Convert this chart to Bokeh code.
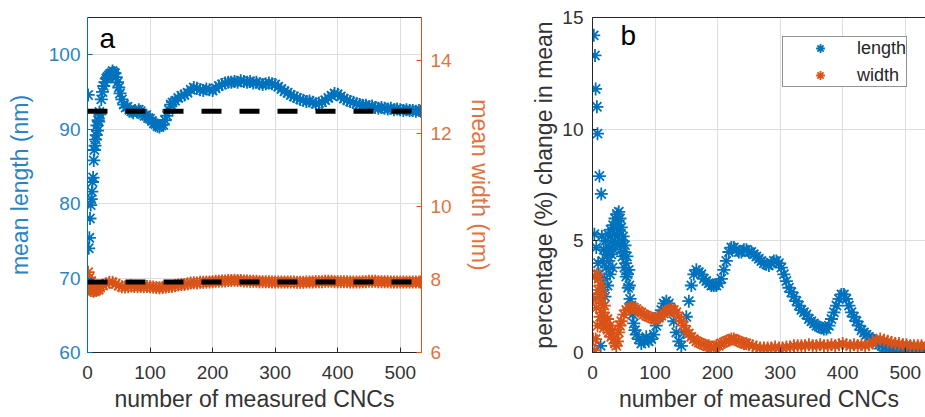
from bokeh.plotting import figure
from bokeh.models import Range1d, LinearAxis, FixedTicker, Label, Legend, LegendItem, Span
from bokeh.layouts import row
from bokeh.embed import file_html
from bokeh.resources import INLINE

BLUE = "#0072BD"
ORANGE = "#D95319"
DARK = "#262626"
FONT = "Liberation Sans"

# ---------------- data ----------------
x_ticks = [0, 100, 200, 300, 400, 500]
len_ticks = [60, 70, 80, 90, 100]
wid_ticks = [6, 8, 10, 12, 14]
pct_ticks = [0, 5, 10, 15]

length_final_mean = 92.4
width_final_mean = 7.93

# panel a: running mean length (nm)
len_n = [1, 2, 3, 4, 5, 6, 7, 8, 9, 10, 11, 12, 13, 14, 15, 16, 17, 18, 19, 20,
         22, 24, 26, 28, 30, 32, 34, 36, 38, 40, 42, 44, 46, 48, 50, 52, 55, 58, 61, 64,
         67, 70, 73, 76, 79, 82, 85, 88, 91, 94, 97, 100, 103, 106, 109, 112, 115, 118, 121, 124,
         127, 130, 133, 136, 140, 145, 150, 155, 160, 165, 170, 175, 180, 185, 190, 195, 200, 205, 210, 215,
         220, 225, 230, 235, 240, 245, 250, 255, 260, 265, 270, 275, 280, 285, 290, 295, 300, 305, 310, 315,
         320, 325, 330, 335, 340, 345, 350, 355, 360, 365, 370, 375, 380, 385, 390, 395, 400, 405, 410, 415,
         420, 425, 430, 435, 440, 445, 450, 455, 460, 465, 470, 475, 480, 485, 490, 495, 500, 505, 510, 515,
         520, 525, 530, 533]
len_mean = [94.6, 74.0, 75.4, 78.0, 79.8, 80.6, 81.6, 82.9, 83.5, 85.8, 87.2, 87.8, 88.6, 89.2, 90.5, 89.8, 91.2, 91.0, 92.3, 92.0,
            94.0, 95.0, 95.8, 96.3, 96.8, 97.0, 97.2, 97.4, 97.5, 97.8, 97.6, 97.5, 97.0, 96.3, 95.6, 94.8, 94.0, 93.3, 92.9, 93.0,
            92.6, 92.4, 92.2, 92.5, 92.3, 92.6, 92.4, 92.0, 91.8, 91.9, 91.5, 91.4, 91.1, 90.8, 90.7, 90.4, 90.3, 90.5, 90.6, 91.2,
            91.8, 92.6, 93.3, 93.6, 93.8, 94.2, 94.5, 94.6, 94.9, 95.3, 95.6, 95.5, 95.3, 95.2, 95.4, 95.3, 95.2, 95.5, 95.8, 96.0,
            96.2, 96.3, 96.3, 96.4, 96.3, 96.5, 96.4, 96.3, 96.4, 96.2, 96.3, 96.1, 96.0, 96.1, 96.2, 96.1, 96.0, 95.7, 95.4, 95.1,
            94.9, 94.6, 94.4, 94.2, 94.0, 93.9, 93.7, 93.8, 93.6, 93.4, 93.5, 93.6, 93.9, 94.2, 94.5, 94.8, 94.7, 94.4, 94.1, 93.9,
            93.7, 93.6, 93.4, 93.3, 93.2, 93.2, 93.0, 93.1, 92.9, 92.8, 92.9, 92.8, 92.7, 92.8, 92.6, 92.7, 92.6, 92.5, 92.6, 92.5,
            92.5, 92.4, 92.5, 92.4]

# panel a: running mean width (nm)
wid_n = [1, 2, 3, 4, 5, 6, 7, 8, 9, 10, 12, 14, 16, 18,
         20, 25, 30, 35, 40, 45, 50, 55, 60, 65, 70, 75, 80, 85, 90, 95, 100, 105, 110, 115,
         120, 125, 130, 135, 140, 145, 150, 155, 160, 165, 170, 175, 180, 185, 190, 195, 200, 205, 210, 215,
         220, 225, 230, 235, 240, 245, 250, 255, 260, 265, 270, 275, 280, 285, 290, 295, 300, 305, 310, 315,
         320, 325, 330, 335, 340, 345, 350, 355, 360, 365, 370, 375, 380, 385, 390, 395, 400, 405, 410, 415,
         420, 425, 430, 435, 440, 445, 450, 455, 460, 465, 470, 475, 480, 485, 490, 495, 500, 505, 510, 515,
         520, 525, 530, 533]
wid_mean = [8.2, 7.75, 8.05, 7.85, 7.7, 7.95, 7.8, 7.7, 7.75, 7.68, 7.72, 7.7, 7.75, 7.72,
            7.78, 7.84, 7.88, 7.92, 7.92, 7.88, 7.83, 7.80, 7.79, 7.80, 7.82, 7.81, 7.80, 7.81, 7.80, 7.81, 7.80, 7.79, 7.78, 7.77,
            7.78, 7.79, 7.81, 7.81, 7.83, 7.85, 7.86, 7.86, 7.88, 7.90, 7.91, 7.90, 7.92, 7.92, 7.93, 7.93, 7.94, 7.95, 7.95, 7.96,
            7.96, 7.97, 7.97, 7.98, 7.97, 7.97, 7.96, 7.96, 7.95, 7.95, 7.95, 7.94, 7.94, 7.94, 7.94, 7.93, 7.93, 7.93, 7.93, 7.93,
            7.93, 7.93, 7.93, 7.92, 7.92, 7.92, 7.93, 7.93, 7.93, 7.94, 7.94, 7.94, 7.95, 7.95, 7.95, 7.94, 7.94, 7.94, 7.94, 7.94,
            7.93, 7.93, 7.93, 7.93, 7.94, 7.94, 7.95, 7.95, 7.95, 7.94, 7.94, 7.94, 7.94, 7.93, 7.93, 7.93, 7.93, 7.93, 7.93, 7.93,
            7.93, 7.93, 7.93, 7.93]

# panel b: percentage change in mean, length
pl_n = [2, 3, 4, 5, 6, 7, 8, 9, 10, 11, 12, 13, 14,
        15, 16, 17, 18, 19, 20, 21, 22, 23, 24, 25, 26, 27,
        28, 29, 30, 31, 32, 33, 34, 35, 36, 37, 38, 39, 40, 41, 42, 43, 44, 45, 46, 47,
        48, 49, 50, 51, 52, 53, 54, 55, 56, 57, 58, 59, 60, 62, 64, 66, 68, 70, 74, 78,
        82, 86, 90, 94, 98, 102, 106, 110, 114, 118, 122, 126, 130, 134, 138, 142, 146, 150, 154, 158,
        162, 166, 170, 174, 178, 182, 186, 190, 194, 198, 202, 206, 210, 214, 218, 222, 226, 230, 234, 238,
        242, 246, 250, 254, 258, 262, 266, 270, 274, 278, 282, 286, 290, 294, 298, 302, 306, 310, 314, 318,
        322, 326, 330, 334, 338, 342, 346, 350, 354, 358, 362, 366, 370, 374, 378, 382, 386, 390, 394, 398,
        402, 406, 410, 414, 418, 422, 426, 430, 434, 438, 442, 446, 450, 454, 458, 462, 466, 470, 474, 478,
        482, 486, 490, 494, 498, 502, 506, 510, 514, 518, 522, 526, 530, 533]
pl_val = [14.2, 5.3, 13.3, 11.8, 4.7, 11.0, 9.8, 4.0, 3.5, 7.9, 2.6, 0.3, 7.1,
          5.2, 4.1, 2.8, 4.6, 3.3, 2.5, 5.0, 3.8, 4.4, 3.0, 5.3, 4.1, 4.7,
          3.5, 5.5, 4.4, 5.0, 3.8, 5.7, 4.6, 5.3, 6.0, 4.9, 5.6, 6.2, 5.2, 5.9, 6.3, 5.5, 6.0, 4.8, 5.6, 5.0,
          4.3, 5.2, 4.5, 3.8, 4.8, 4.0, 3.4, 4.3, 3.5, 2.9, 3.7, 3.0, 2.4, 2.1, 1.7, 1.3, 1.0, 0.8, 0.6, 0.4,
          0.5, 0.7, 0.5, 0.6, 0.8, 1.2, 1.6, 1.9, 2.2, 2.3, 2.2, 1.9, 1.4, 0.9, 0.5, 0.3, 0.9, 1.6, 2.3, 3.0,
          3.5, 3.7, 3.6, 3.5, 3.3, 3.2, 3.1, 3.0, 3.0, 3.0, 3.1, 3.3, 3.7, 4.1, 4.5, 4.7, 4.7, 4.6, 4.5, 4.5,
          4.6, 4.6, 4.5, 4.5, 4.4, 4.3, 4.2, 4.1, 4.0, 3.95, 3.9, 4.0, 4.1, 4.1, 4.0, 3.8, 3.5, 3.2, 2.9, 2.7,
          2.5, 2.3, 2.1, 1.9, 1.8, 1.7, 1.5, 1.4, 1.3, 1.2, 1.15, 1.1, 1.05, 1.05, 1.2, 1.5, 1.8, 2.1, 2.4, 2.6,
          2.6, 2.4, 2.1, 1.8, 1.6, 1.4, 1.2, 1.0, 0.9, 0.8, 0.7, 0.6, 0.55, 0.45, 0.35, 0.3, 0.25, 0.25, 0.2, 0.15,
          0.15, 0.2, 0.25, 0.2, 0.2, 0.25, 0.2, 0.2, 0.15, 0.15, 0.15, 0.2, 0.15, 0.15]

# panel b: percentage change in mean, width
pw_n = [1, 2, 3, 4, 5, 6, 7, 8, 9, 10, 11, 12, 13, 14, 15, 16, 17, 18, 19, 20,
        22, 24, 26, 28, 30, 32, 34, 36, 38, 40, 42, 44,
        46, 50, 54, 58, 62, 66, 70, 74, 78, 82, 86, 90, 94, 98, 102, 106, 110, 114,
        118, 122, 126, 130, 134, 138, 142, 146, 150, 154, 158, 162, 166, 170, 174, 178, 182, 186, 190, 194,
        198, 202, 206, 210, 214, 218, 222, 226, 230, 234, 238, 242, 246, 250,
        256, 262, 268, 274, 280, 286, 292, 298, 304, 310, 316, 322, 328, 334, 340, 346, 352, 358, 364, 370,
        376, 382, 388, 394, 400, 406, 412, 418, 424, 430, 436, 442, 448, 454, 460, 466, 472, 478, 484, 490,
        496, 502, 508, 514, 520, 526, 533]
pw_val = [0.6, 2.4, 0.1, 3.4, 0.6, 2.0, 3.5, 1.2, 2.8, 3.3, 2.5, 1.6, 3.0, 2.2, 1.3, 2.6, 1.8, 1.1, 2.1, 1.6,
          1.2, 1.5, 0.9, 1.2, 0.7, 1.0, 0.6, 0.4, 0.3, 0.5, 0.9, 1.2,
          1.4, 1.7, 1.9, 2.0, 2.0, 2.0, 1.95, 1.85, 1.8, 1.7, 1.65, 1.6, 1.55, 1.5, 1.5, 1.55, 1.65, 1.75,
          1.85, 1.9, 1.95, 1.9, 1.8, 1.6, 1.4, 1.2, 1.0, 0.85, 0.7, 0.6, 0.5, 0.45, 0.4, 0.35, 0.3, 0.3, 0.25, 0.25,
          0.3, 0.3, 0.4, 0.45, 0.5, 0.55, 0.6, 0.6, 0.55, 0.5, 0.45, 0.4, 0.4, 0.35,
          0.3, 0.25, 0.2, 0.2, 0.2, 0.2, 0.25, 0.2, 0.2, 0.25, 0.25, 0.3, 0.3, 0.3, 0.3, 0.35, 0.3, 0.3, 0.35, 0.3,
          0.3, 0.35, 0.3, 0.35, 0.4, 0.35, 0.3, 0.35, 0.3, 0.35, 0.3, 0.35, 0.45, 0.55, 0.6, 0.55, 0.5, 0.45, 0.4, 0.4,
          0.35, 0.35, 0.3, 0.3, 0.3, 0.3, 0.3]

MS = 13
MLW = 1.8


def style_axis(ax, color, label_color=None):
    ax.axis_line_color = color
    ax.major_tick_line_color = color
    ax.major_tick_in = 5
    ax.major_tick_out = 0
    ax.minor_tick_line_color = None
    ax.major_label_text_color = label_color or color
    ax.major_label_text_font = FONT
    ax.major_label_text_font_size = "19px"
    ax.axis_label_text_font = FONT
    ax.axis_label_text_font_size = "23px"
    ax.axis_label_text_font_style = "normal"
    ax.axis_label_text_color = label_color or color


def top_border(p):
    # plain box line along the top of the frame (no ticks, no labels)
    ax = LinearAxis(ticker=FixedTicker(ticks=[]))
    ax.axis_line_color = DARK
    ax.major_tick_line_color = None
    ax.minor_tick_line_color = None
    ax.major_label_standoff = 0
    p.add_layout(ax, "above")


# ---------------- panel a ----------------
pa = figure(width=500, height=417, x_range=Range1d(0, 534), y_range=Range1d(60, 105),
            output_backend="svg", toolbar_location=None,
            min_border_left=87, min_border_right=79, min_border_top=17, min_border_bottom=65)
pa.extra_y_ranges = {"w": Range1d(6, 15.17)}
pa.outline_line_color = None

pa.xaxis.ticker = FixedTicker(ticks=x_ticks)
pa.yaxis.ticker = FixedTicker(ticks=len_ticks)
pa.xaxis.axis_label = "number of measured CNCs"
pa.yaxis.axis_label = "mean length (nm)"
style_axis(pa.xaxis[0], DARK, "#333333")
style_axis(pa.yaxis[0], BLUE, "#2a84c2")
pa.xaxis.major_label_standoff = 13
pa.xaxis.axis_label_standoff = 4
pa.yaxis.major_label_standoff = 7
pa.yaxis.axis_label_standoff = 13

ax_r = LinearAxis(y_range_name="w", ticker=FixedTicker(ticks=wid_ticks), axis_label="mean width (nm)")
style_axis(ax_r, ORANGE, "#de7440")
ax_r.major_label_standoff = 9
ax_r.axis_label_standoff = 12
pa.add_layout(ax_r, "right")
top_border(pa)

pa.xgrid.ticker = FixedTicker(ticks=x_ticks)
pa.ygrid.ticker = FixedTicker(ticks=len_ticks)
pa.grid.grid_line_color = "#dedede"
pa.grid.grid_line_width = 1

pa.scatter(len_n, len_mean, marker="asterisk", size=MS, line_color=BLUE, line_width=MLW)
pa.scatter(wid_n, wid_mean, marker="asterisk", size=MS, line_color=ORANGE, line_width=MLW, y_range_name="w")

pa.add_layout(Span(location=length_final_mean, dimension="width", line_color="black",
                   line_width=5, line_dash="20 18"))
pa.add_layout(Span(location=width_final_mean, dimension="width", line_color="black",
                   line_width=5, line_dash="20 18", y_range_name="w"))

pa.add_layout(Label(x=12, y=299, x_units="screen", y_units="screen", text="a",
                    text_font=FONT, text_font_size="28px", text_color="black"))

# ---------------- panel b ----------------
pb = figure(width=425, height=417, x_range=Range1d(0, 532.4), y_range=Range1d(0, 15),
            output_backend="svg", toolbar_location=None,
            min_border_left=92, min_border_right=0, min_border_top=17, min_border_bottom=65)
pb.outline_line_color = None
pb.xaxis.ticker = FixedTicker(ticks=x_ticks)
pb.yaxis.ticker = FixedTicker(ticks=pct_ticks)
pb.xaxis.axis_label = "number of measured CNCs"
pb.yaxis.axis_label = "percentage (%) change in mean"
style_axis(pb.xaxis[0], DARK, "#333333")
style_axis(pb.yaxis[0], DARK, "#333333")
pb.xaxis.major_label_standoff = 13
pb.xaxis.axis_label_standoff = 4
pb.yaxis.major_label_standoff = 9
pb.yaxis.axis_label_standoff = 2
top_border(pb)
pb.xgrid.ticker = FixedTicker(ticks=x_ticks)
pb.ygrid.ticker = FixedTicker(ticks=pct_ticks)
pb.grid.grid_line_color = "#dedede"
pb.grid.grid_line_width = 1

rl = pb.scatter(pl_n, pl_val, marker="asterisk", size=MS, line_color=BLUE, line_width=MLW)
rw = pb.scatter(pw_n, pw_val, marker="asterisk", size=MS, line_color=ORANGE, line_width=MLW)

pb.add_layout(Label(x=28, y=302, x_units="screen", y_units="screen", text="b",
                    text_font=FONT, text_font_size="28px", text_color="black"))

legend = Legend(items=[LegendItem(label="length", renderers=[rl]),
                       LegendItem(label="width", renderers=[rw])],
                location=(190, 265), margin=0, padding=0, spacing=5,
                glyph_width=74, glyph_height=22, label_height=22, label_standoff=0,
                label_text_font=FONT, label_text_font_size="18px", label_text_color=DARK,
                border_line_color=DARK, border_line_width=1,
                background_fill_color="white", background_fill_alpha=1.0)
pb.add_layout(legend)

layout = row(pa, pb)
open("out.html", "w").write(file_html(layout, INLINE))
